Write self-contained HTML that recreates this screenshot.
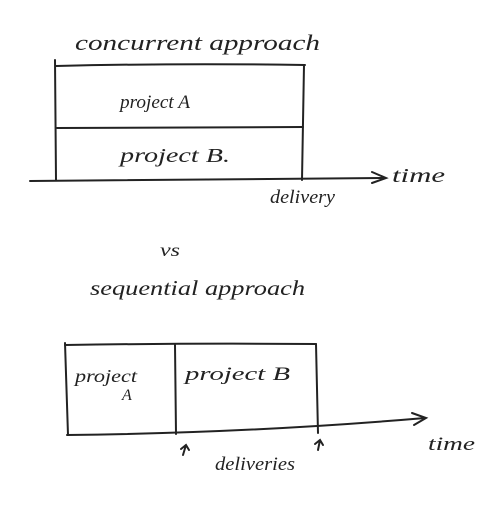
<!DOCTYPE html>
<html><head><meta charset="utf-8"><style>
html,body{margin:0;padding:0;background:#fff;}
svg{display:block;}
text{font-family:"Liberation Serif",serif;font-style:italic;fill:#222;}
</style></head><body>
<svg width="500" height="512" viewBox="0 0 500 512" xmlns="http://www.w3.org/2000/svg">
<g stroke="#222" stroke-width="2" fill="none" stroke-linecap="round">
<path d="M55 60 L56 180"/>
<path d="M56 66 Q180 63 305 65"/>
<path d="M304 65 L302 180"/>
<path d="M57 128 Q180 127 303 127"/>
<path d="M30 181 Q200 180 385 178"/>
<path d="M372 172 L386 178 L372 183"/>
<path d="M65 343 L68 435"/>
<path d="M65 345 Q190 343 316 344"/>
<path d="M316 344 L318 433"/>
<path d="M175 345 L176 434"/>
<path d="M67 435 Q250 433 425 418"/>
<path d="M412 413 L426 418 L414 425"/>
<path d="M183 455 L186 445 M181 449 L186 445 L189 450"/>
<path d="M318 450 L320 440 M315 444 L320 440 L323 445"/>
</g>
<text x="75" y="50" font-size="22" textLength="245" lengthAdjust="spacingAndGlyphs">concurrent approach</text>
<text x="120" y="108" font-size="19" textLength="70" lengthAdjust="spacingAndGlyphs">project A</text>
<text x="120" y="162" font-size="20" textLength="110" lengthAdjust="spacingAndGlyphs">project B.</text>
<text x="392" y="182" font-size="20" textLength="53" lengthAdjust="spacingAndGlyphs">time</text>
<text x="270" y="203" font-size="19" textLength="65" lengthAdjust="spacingAndGlyphs">delivery</text>
<text x="160" y="256" font-size="18" textLength="20" lengthAdjust="spacingAndGlyphs">vs</text>
<text x="90" y="295" font-size="21" textLength="215" lengthAdjust="spacingAndGlyphs">sequential approach</text>
<text x="75" y="382" font-size="18" textLength="62" lengthAdjust="spacingAndGlyphs">project</text>
<text x="122" y="400" font-size="16">A</text>
<text x="185" y="380" font-size="19" textLength="105" lengthAdjust="spacingAndGlyphs">project B</text>
<text x="428" y="450" font-size="19" textLength="47" lengthAdjust="spacingAndGlyphs">time</text>
<text x="215" y="470" font-size="19" textLength="80" lengthAdjust="spacingAndGlyphs">deliveries</text>
</svg>
</body></html>
